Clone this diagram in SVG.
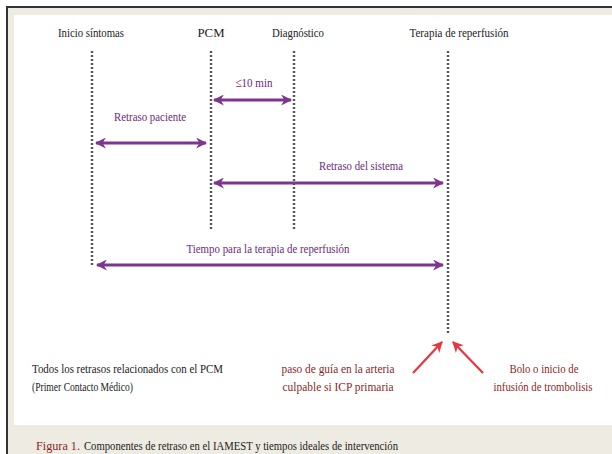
<svg xmlns="http://www.w3.org/2000/svg" width="612" height="454" viewBox="0 0 612 454">
<style>
.t{font-family:"Liberation Serif","DejaVu Serif","Times New Roman",serif;font-size:13px;fill:#222}
.p{fill:#6e2a78}
.r{fill:#8b1f25}
.dot{stroke:#555;stroke-width:2.4;stroke-dasharray:2 2;fill:none}
.pa{stroke:#7d3590;stroke-width:3;fill:none;marker-start:url(#ps);marker-end:url(#pe)}
.ra{stroke:#e8353f;stroke-width:2.2;fill:none;marker-end:url(#re)}
</style>
<defs>
<marker id="pe" viewBox="0 0 10 10" refX="9" refY="5" markerWidth="11" markerHeight="11" markerUnits="userSpaceOnUse" orient="auto"><path d="M0,0 L10,5 L0,10 L3,5 z" fill="#7d3590"/></marker>
<marker id="ps" viewBox="0 0 10 10" refX="1" refY="5" markerWidth="11" markerHeight="11" markerUnits="userSpaceOnUse" orient="auto"><path d="M10,0 L0,5 L10,10 L7,5 z" fill="#7d3590"/></marker>
<marker id="re" viewBox="0 0 10 10" refX="9" refY="5" markerWidth="11" markerHeight="11" markerUnits="userSpaceOnUse" orient="auto"><path d="M0,0 L10,5 L0,10 L3,5 z" fill="#e8353f"/></marker>
</defs>
<rect x="0" y="0" width="612" height="454" fill="#ffffff"/>
<rect x="7" y="7" width="605" height="447" fill="#eeebe2"/>
<path d="M7,454 V7 H612" stroke="#333" stroke-width="2" fill="none"/>
<rect x="14" y="15" width="598" height="410" fill="#ffffff"/>

<g id="n-inicio"><text class="t" x="91" y="37" text-anchor="middle" textLength="66" lengthAdjust="spacingAndGlyphs">Inicio síntomas</text></g>
<g id="n-pcm"><text class="t" x="211" y="37" text-anchor="middle" textLength="27" lengthAdjust="spacingAndGlyphs">PCM</text></g>
<g id="n-diag"><text class="t" x="298" y="37" text-anchor="middle" textLength="52" lengthAdjust="spacingAndGlyphs">Diagnóstico</text></g>
<g id="n-terapia"><text class="t" x="459" y="37" text-anchor="middle" textLength="99" lengthAdjust="spacingAndGlyphs">Terapia de reperfusión</text></g>

<g id="connectors">
<line class="dot" x1="92" y1="51" x2="92" y2="266"/>
<line class="dot" x1="211" y1="51" x2="211" y2="231"/>
<line class="dot" x1="294" y1="51" x2="294" y2="231"/>
<line class="dot" x1="448" y1="51" x2="448" y2="335"/>
<line class="pa" x1="214" y1="100" x2="291" y2="100"/>
<line class="pa" x1="96" y1="143" x2="206" y2="143"/>
<line class="pa" x1="214" y1="183" x2="443" y2="183"/>
<line class="pa" x1="97" y1="265" x2="443" y2="265"/>
<line class="ra" x1="413" y1="373" x2="442" y2="342"/>
<line class="ra" x1="483" y1="373" x2="453" y2="342"/>
</g>

<g id="l-10min"><text class="t p" x="254" y="87" text-anchor="middle" textLength="37" lengthAdjust="spacingAndGlyphs">≤10 min</text></g>
<g id="l-paciente"><text class="t p" x="150" y="121" text-anchor="middle" textLength="72" lengthAdjust="spacingAndGlyphs">Retraso paciente</text></g>
<g id="l-sistema"><text class="t p" x="361" y="170" text-anchor="middle" textLength="84" lengthAdjust="spacingAndGlyphs">Retraso del sistema</text></g>
<g id="l-tiempo"><text class="t p" x="268" y="253" text-anchor="middle" textLength="163" lengthAdjust="spacingAndGlyphs">Tiempo para la terapia de reperfusión</text></g>

<g id="n-todos">
<text class="t" x="32" y="373" textLength="191" lengthAdjust="spacingAndGlyphs">Todos los retrasos relacionados con el PCM</text>
<text class="t" x="32" y="391" textLength="101" lengthAdjust="spacingAndGlyphs">(Primer Contacto Médico)</text>
</g>
<g id="n-guia">
<text class="t r" x="338" y="373" text-anchor="middle" textLength="113" lengthAdjust="spacingAndGlyphs">paso de guía en la arteria</text>
<text class="t r" x="338" y="391" text-anchor="middle" textLength="111" lengthAdjust="spacingAndGlyphs">culpable si ICP primaria</text>
</g>
<g id="n-bolo">
<text class="t r" x="544" y="373" text-anchor="middle" textLength="69" lengthAdjust="spacingAndGlyphs">Bolo o inicio de</text>
<text class="t r" x="543" y="391" text-anchor="middle" textLength="99" lengthAdjust="spacingAndGlyphs">infusión de trombolisis</text>
</g>
<g id="caption">
<text class="t r" x="36" y="450" textLength="44" lengthAdjust="spacingAndGlyphs">Figura 1.</text>
<text class="t" x="84" y="450" textLength="314" lengthAdjust="spacingAndGlyphs">Componentes de retraso en el IAMEST y tiempos ideales de intervención</text>
</g>
</svg>
